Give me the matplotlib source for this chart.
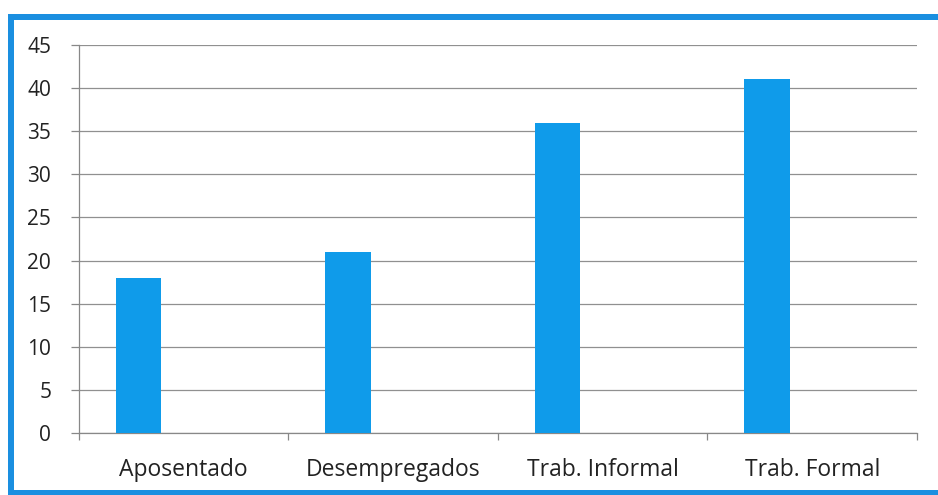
import numpy as np
import matplotlib.pyplot as plt
from matplotlib.patches import Rectangle

categorias = ['Aposentado', 'Desempregados', 'Trab. Informal', 'Trab. Formal']
valores = [18, 21, 36, 41]
yticks = [0, 5, 10, 15, 20, 25, 30, 35, 40, 45]

plt.rcParams['font.family'] = ['Open Sans', 'DejaVu Sans']

fig = plt.figure(figsize=(9.38, 4.95), dpi=100)
ax = fig.add_axes([0.0842, 0.1253, 0.8934, 0.7838])

x = np.arange(len(categorias))
ax.bar(x - 0.216, valores, width=0.215, color='#0F9BEA', zorder=3)

ax.set_xlim(-0.5, len(categorias) - 0.5)
ax.set_ylim(0, 45)
ax.set_yticks(yticks)
ax.yaxis.grid(True, color='#909090', linewidth=0.9, zorder=0)

ax.set_xticks(x)
ax.set_xticklabels(categorias, fontsize=16.5, color='#222222')
ax.tick_params(axis='x', length=0, pad=18)
ax.set_xticks(np.arange(-0.5, len(categorias)), minor=True)
ax.tick_params(axis='x', which='minor', length=5, color='#888888', width=0.9)
ax.tick_params(axis='y', length=6, color='#888888', width=0.9, labelsize=15,
               labelcolor='#222222', pad=14)

for s in ['top', 'right']:
    ax.spines[s].set_visible(False)
ax.spines['left'].set_color('#888888')
ax.spines['bottom'].set_color('#888888')
ax.spines['left'].set_linewidth(0.9)
ax.spines['bottom'].set_linewidth(0.9)

# moldura azul (faixas cheias: esquerda, topo, base), em pixels
W, H = 938, 495
faixas = [(8, 0, 6, 481), (8, 475, 930, 6), (8, 0, 930, 5)]
for fx, fy, fw, fh in faixas:
    fig.patches.append(Rectangle((fx / W, fy / H), fw / W, fh / H,
                                 transform=fig.transFigure, facecolor='#1a8fe0',
                                 edgecolor='none'))

plt.savefig('out.png', dpi=100)
